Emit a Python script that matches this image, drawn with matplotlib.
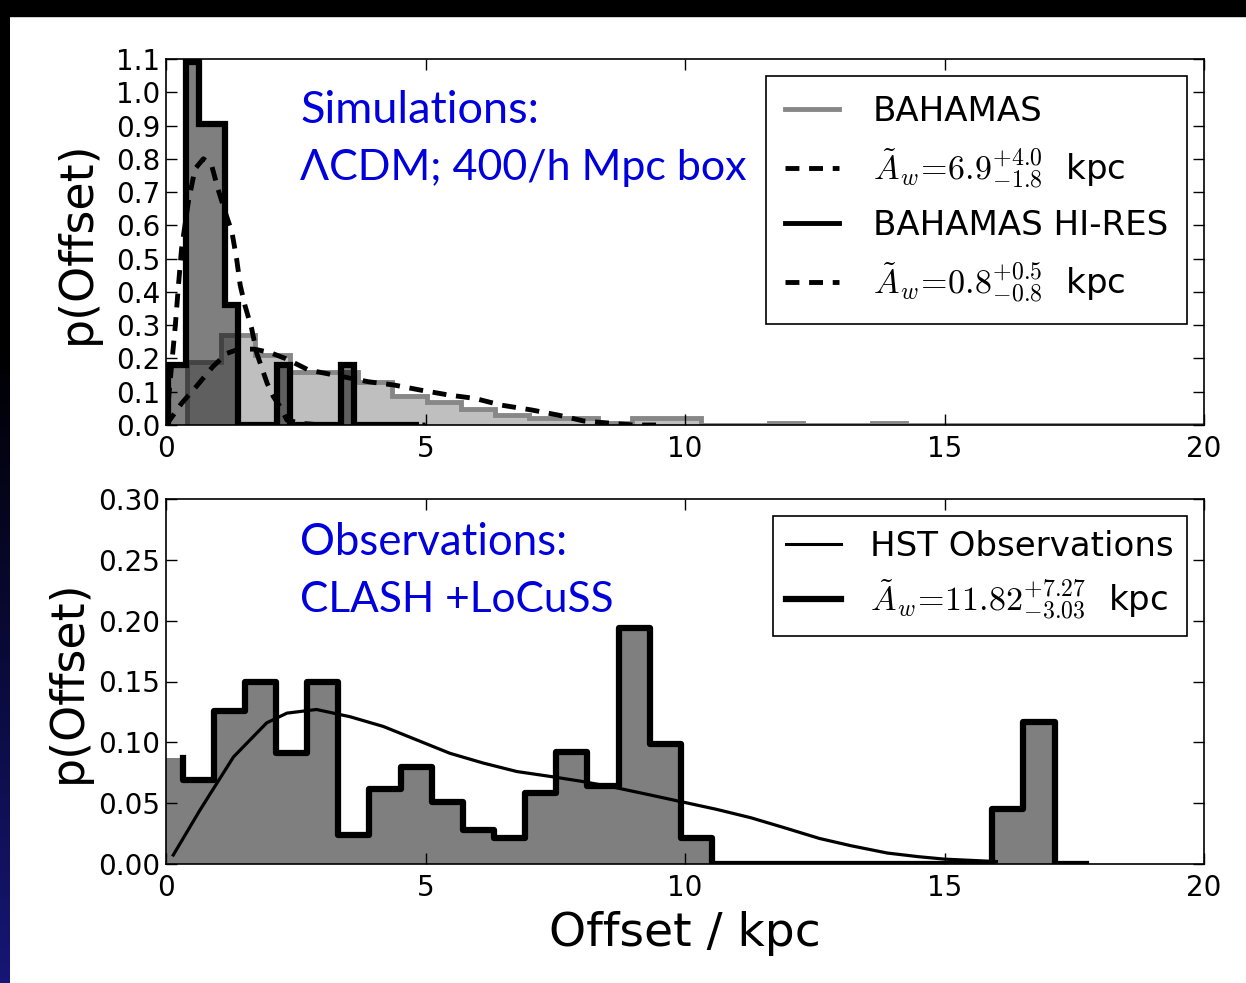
import numpy as np
import matplotlib
matplotlib.use("Agg")
import matplotlib.pyplot as plt
from matplotlib.lines import Line2D
from matplotlib.patches import Rectangle
from matplotlib.colors import LinearSegmentedColormap

plt.rcParams["font.family"] = "DejaVu Sans"
plt.rcParams["mathtext.fontset"] = "cm"
plt.rcParams["lines.scale_dashes"] = False

# ---- panel superior: simulaciones ----
bahamas_edges = [0.40, 1.06, 1.72, 2.38, 3.04, 3.70, 4.36, 5.02, 5.68, 6.34, 7.00, 7.66,
                 8.32, 8.98, 9.64, 10.30, 10.96, 11.62, 12.28, 12.94, 13.60, 14.26, 20.0]
bahamas_vals = [0.19, 0.27, 0.21, 0.16, 0.16, 0.13, 0.087, 0.07, 0.048, 0.03, 0.02,
                0.02, 0.005, 0.022, 0.022, 0.0, 0.0, 0.007, 0.0, 0.0, 0.007, 0.0]

hires_edges = [0.04, 0.38, 0.63, 0.88, 1.13, 1.38, 2.13, 2.38, 3.38, 3.63, 4.88]
hires_vals = [0.18, 1.09, 0.905, 0.905, 0.36, 0.0, 0.18, 0.0, 0.18, 0.0]

bahamas_fit_x = [0.0, 0.05, 0.3, 0.58, 0.9, 1.17, 1.4, 1.7, 2.0, 2.3, 2.75, 3.25, 3.9,
                 4.4, 4.9, 5.45, 5.95, 6.45, 7.05, 7.55, 8.05, 8.6, 9.0, 9.5]
bahamas_fit_y = [0.0, 0.01, 0.065, 0.115, 0.175, 0.215, 0.228, 0.228, 0.218, 0.2, 0.165,
                 0.15, 0.13, 0.12, 0.105, 0.09, 0.08, 0.06, 0.045, 0.03, 0.012, 0.005, 0.0, 0.0]

hires_fit_x = [0.0, 0.05, 0.12, 0.18, 0.24, 0.30, 0.43, 0.56, 0.72, 0.88, 1.00, 1.14,
               1.27, 1.36, 1.43, 1.52, 1.65, 1.75, 1.95, 2.07, 2.20, 2.33, 2.60, 3.0, 5.0]
hires_fit_y = [0.0, 0.08, 0.20, 0.30, 0.42, 0.53, 0.67, 0.77, 0.80, 0.78, 0.71, 0.64,
               0.58, 0.50, 0.42, 0.36, 0.29, 0.215, 0.125, 0.085, 0.055, 0.015, 0.005, 0.0, 0.0]

# ---- panel inferior: observaciones ----
hst_edges = [0.0, 0.32, 0.92, 1.52, 2.12, 2.72, 3.32, 3.92, 4.52, 5.12, 5.72, 6.32, 6.92,
             7.52, 8.12, 8.72, 9.32, 9.92, 10.52, 11.12, 11.72, 12.32, 12.92, 13.52,
             14.12, 14.72, 15.32, 15.92, 16.52, 17.12, 17.72]
hst_vals = [0.087, 0.069, 0.126, 0.15, 0.091, 0.15, 0.024, 0.062, 0.08, 0.051, 0.028,
            0.021, 0.058, 0.092, 0.064, 0.194, 0.099, 0.021, 0.0, 0.0, 0.0, 0.0, 0.0,
            0.0, 0.0, 0.0, 0.0, 0.045, 0.117, 0.0]

hst_fit_x = [0.14, 0.65, 1.3, 1.94, 2.33, 2.9, 3.55, 4.19, 4.83, 5.47, 6.11, 6.76, 7.4,
             8.0, 8.64, 9.3, 9.95, 10.6, 11.27, 11.9, 12.59, 13.2, 13.9, 14.5, 15.0, 15.5, 16.0]
hst_fit_y = [0.0074, 0.044, 0.088, 0.116, 0.124, 0.127, 0.121, 0.113, 0.102, 0.091, 0.083,
             0.076, 0.072, 0.068, 0.063, 0.057, 0.051, 0.045, 0.038, 0.03, 0.021, 0.015,
             0.009, 0.006, 0.004, 0.003, 0.002]

W, H = 1246, 983
fig = plt.figure(figsize=(W / 100, H / 100), dpi=100)

# marco oscuro de la diapositiva
fig.patches.append(Rectangle((0, 1 - 16 / H), 1, 16 / H, transform=fig.transFigure,
                             color="black", zorder=0))
ax_borde = fig.add_axes([0, 0, 10 / W, 1 - 16 / H])
cmap_borde = LinearSegmentedColormap.from_list("borde", ["#161675", "#0a0a3a", "black", "black"])
ax_borde.imshow(np.linspace(0, 1, 200).reshape(-1, 1), aspect="auto", cmap=cmap_borde,
                origin="lower")
ax_borde.axis("off")

dash = (10, 7)
leg_kw = dict(loc="upper right", fontsize=24.5, frameon=True, fancybox=False, framealpha=1,
              edgecolor="black", handlelength=1.6, borderaxespad=0.5)


def estilo(ax, ylim, yticks, fmt, xlab_pos):
    ax.set_xlim(0, 20)
    ax.set_ylim(*ylim)
    ax.set_xticks([0, 5, 10, 15, 20])
    ax.set_yticks(yticks)
    ax.set_yticklabels([fmt % t for t in yticks])
    ax.tick_params(direction="in", top=True, right=True, length=8, width=1, labelsize=20)
    ax.tick_params(axis="x", pad=7)
    ax.tick_params(axis="y", pad=4)
    for s in ax.spines.values():
        s.set_linewidth(1.2)
    ax.set_ylabel("p(Offset)", fontsize=33)
    ax.yaxis.set_label_coords(xlab_pos, 0.5)


ax1 = fig.add_axes([166 / W, 1 - 425 / H, 1038 / W, 366 / H])
ax1.stairs(bahamas_vals, bahamas_edges, fill=True, color="black", alpha=0.25, lw=0)
ax1.stairs(bahamas_vals, bahamas_edges, color="0.53", lw=3.5)
ax1.stairs(hires_vals, hires_edges, fill=True, color="black", alpha=0.5, lw=0)
ax1.stairs(hires_vals, hires_edges, color="black", lw=4.5)
ax1.plot(bahamas_fit_x, bahamas_fit_y, color="black", ls="--", dashes=dash, lw=3.5)
ax1.plot(hires_fit_x, hires_fit_y, color="black", ls="--", dashes=dash, lw=3.5)
estilo(ax1, (0, 1.1), np.round(np.arange(0, 1.11, 0.1), 1), "%.1f", -0.064)

handles1 = [Line2D([], [], color="0.53", lw=3.5),
            Line2D([], [], color="black", ls="--", dashes=dash, lw=3.5),
            Line2D([], [], color="black", lw=3.5),
            Line2D([], [], color="black", ls="--", dashes=dash, lw=3.5)]
labels1 = ["BAHAMAS",
           r"$\tilde{A}_w\!=\!6.9^{+4.0}_{-1.8}$  kpc",
           "BAHAMAS HI-RES",
           r"$\tilde{A}_w\!=\!0.8^{+0.5}_{-0.8}$  kpc"]
leg1 = ax1.legend(handles1, labels1, labelspacing=0.55, handletextpad=1.0, borderpad=0.55,
                  **leg_kw)
leg1.get_frame().set_linewidth(1.2)

ax2 = fig.add_axes([166 / W, 1 - 864 / H, 1038 / W, 365 / H])
ax2.stairs(hst_vals, hst_edges, fill=True, color="black", alpha=0.5, lw=0)
ax2.step(hst_edges[1:], hst_vals, where="pre", color="black", lw=4.5)
ax2.plot(hst_fit_x, hst_fit_y, color="black", lw=2.3)
estilo(ax2, (0, 0.3), np.round(np.arange(0, 0.301, 0.05), 2), "%.2f", -0.072)
ax2.set_xlabel("Offset / kpc", fontsize=34)
ax2.xaxis.set_label_coords(0.5, -0.13)

handles2 = [Line2D([], [], color="black", lw=2.2),
            Line2D([], [], color="black", lw=4.5)]
labels2 = ["HST Observations", r"$\tilde{A}_w\!=\!11.82^{+7.27}_{-3.03}$  kpc"]
leg2 = ax2.legend(handles2, labels2, labelspacing=0.45, handletextpad=0.85, borderpad=0.4,
                  **leg_kw)
leg2.get_frame().set_linewidth(1.2)

# textos añadidos en la diapositiva
azul = "#0000dd"
fig.text(300 / W, 1 - 123 / H, "Simulations:", fontsize=32.5, color=azul, family="Lato",
         va="baseline")
fig.text(300 / W, 1 - 180 / H, "ΛCDM; 400/h Mpc box", fontsize=31, color=azul,
         family=["Lato", "DejaVu Sans"], va="baseline")
fig.text(300 / W, 1 - 555 / H, "Observations:", fontsize=31.5, color=azul, family="Lato",
         va="baseline")
fig.text(300 / W, 1 - 612 / H, "CLASH +LoCuSS", fontsize=30.5, color=azul, family="Lato",
         va="baseline")

fig.savefig("out.png", dpi=100)
